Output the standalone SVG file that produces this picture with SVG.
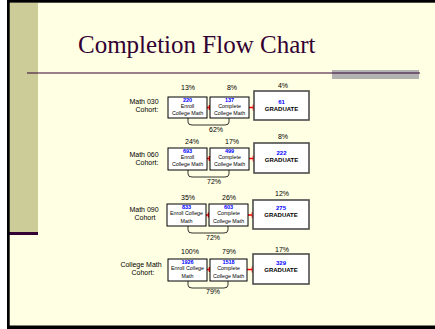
<svg xmlns="http://www.w3.org/2000/svg" width="435" height="329" viewBox="0 0 435 329">
<style>
.pct{font-family:"Liberation Sans",Arial,sans-serif;font-size:7px;fill:#000;text-anchor:middle}
.lbl{font-family:"Liberation Sans",Arial,sans-serif;font-size:7px;fill:#000;text-anchor:middle}
.box{fill:#fff;stroke:#000;stroke-width:1}
.gbox{fill:#fff;stroke:#4d4d4d;stroke-width:1.6}
.num{font-family:"Liberation Sans",Arial,sans-serif;font-size:5.5px;font-weight:bold;fill:#0000ff;text-anchor:middle}
.gnum{font-family:"Liberation Sans",Arial,sans-serif;font-size:6px;font-weight:bold;fill:#0000ff;text-anchor:middle}
.txt{font-family:"Liberation Sans",Arial,sans-serif;font-size:5.3px;fill:#000;text-anchor:middle}
.grad{font-family:"Liberation Sans",Arial,sans-serif;font-size:6px;font-weight:bold;fill:#000;text-anchor:middle}
.red{stroke:#ff0000;stroke-width:1.6;fill:none}
.br{stroke:#000;stroke-width:0.8;fill:none}
</style>
<rect x="0" y="0" width="435" height="329" fill="#fff"/>
<rect x="7" y="0" width="428" height="329" fill="#ffffe3"/>
<rect x="9" y="3" width="29" height="229" fill="#cccc99"/>
<rect x="9" y="232" width="29" height="3" fill="#330033"/>
<rect x="7" y="0" width="428" height="2.7" fill="#000"/>
<rect x="7" y="0" width="2.7" height="329" fill="#000"/>
<rect x="7" y="325.5" width="428" height="3.5" fill="#000"/>
<text x="78" y="53" font-family="'Liberation Serif','Times New Roman',serif" font-size="25" fill="#330033">Completion Flow Chart</text>
<rect x="332" y="70" width="87" height="9" fill="#b2b2b2"/>
<line x1="27" y1="73" x2="420" y2="73" stroke="#330033" stroke-width="1"/>

<g id="connectors">
<path class="red" d="M207 107.5H210M209.5 105V110M249 107.5H254M253.5 104.5V110.5"/>
<path class="br" d="M188 118V122Q188 125 192 125H225Q229 125 229 122V118"/>
<path class="red" d="M207 158.5H210M209.5 156V161M249 158.5H254M253.5 155.5V161.5"/>
<path class="br" d="M188 170V174Q188 177 192 177H225Q229 177 229 174V170"/>
<path class="red" d="M206 215H209M208.5 212.5V217.5M248 215H253M252.5 212V218"/>
<path class="br" d="M188 226V230Q188 233 192 233H224Q228 233 228 230V226"/>
<path class="red" d="M207 269.5H210M209.5 267V272M247 269.5H253M252.5 266.5V272.5"/>
<path class="br" d="M188 281V285Q188 288 192 288H224Q228 288 228 285V281"/>
</g>

<g id="row1">
<text class="lbl" x="144" y="104">Math 030</text>
<text class="lbl" x="147" y="112">Cohort:</text>
<text class="pct" x="188" y="90">13%</text>
<text class="pct" x="232" y="90">8%</text>
<text class="pct" x="283" y="88">4%</text>
<g id="enroll1"><rect class="box" x="168" y="97" width="39" height="21"/>
<text class="num" x="187.5" y="102">220</text><text class="txt" x="187.5" y="107.5">Enroll</text><text class="txt" x="187.5" y="114.5">College Math</text></g>
<g id="complete1"><rect class="box" x="210" y="97" width="39" height="21"/>
<text class="num" x="229.5" y="102">137</text><text class="txt" x="229.5" y="107.5">Complete</text><text class="txt" x="229.5" y="114.5">College Math</text></g>
<g id="grad1"><rect class="gbox" x="254" y="91" width="55" height="29"/>
<text class="gnum" x="281.5" y="104">61</text><text class="grad" x="281.5" y="111">GRADUATE</text></g>
<text class="pct" x="216" y="132">62%</text>
</g>

<g id="row2">
<text class="lbl" x="144" y="157">Math 060</text>
<text class="lbl" x="147" y="165">Cohort:</text>
<text class="pct" x="192" y="144">24%</text>
<text class="pct" x="232" y="144">17%</text>
<text class="pct" x="283" y="139">8%</text>
<g id="enroll2"><rect class="box" x="168" y="148" width="39" height="22"/>
<text class="num" x="187.5" y="153">693</text><text class="txt" x="187.5" y="159">Enroll</text><text class="txt" x="187.5" y="166">College Math</text></g>
<g id="complete2"><rect class="box" x="210" y="148" width="39" height="22"/>
<text class="num" x="229.5" y="153">499</text><text class="txt" x="229.5" y="159">Complete</text><text class="txt" x="229.5" y="166">College Math</text></g>
<g id="grad2"><rect class="gbox" x="254" y="143" width="55" height="30"/>
<text class="gnum" x="281.5" y="155">222</text><text class="grad" x="281.5" y="162">GRADUATE</text></g>
<text class="pct" x="214" y="184">72%</text>
</g>

<g id="row3">
<text class="lbl" x="144" y="212">Math 090</text>
<text class="lbl" x="145" y="220">Cohort</text>
<text class="pct" x="188" y="200">35%</text>
<text class="pct" x="229" y="200">26%</text>
<text class="pct" x="282" y="196">12%</text>
<g id="enroll3"><rect class="box" x="167" y="204" width="39" height="22"/>
<text class="num" x="186.5" y="209">833</text><text class="txt" x="186.5" y="215">Enroll College</text><text class="txt" x="186.5" y="223">Math</text></g>
<g id="complete3"><rect class="box" x="209" y="204" width="39" height="22"/>
<text class="num" x="228.5" y="209">603</text><text class="txt" x="228.5" y="215">Complete</text><text class="txt" x="228.5" y="223">College Math</text></g>
<g id="grad3"><rect class="gbox" x="253" y="200" width="56" height="29"/>
<text class="gnum" x="281" y="210">275</text><text class="grad" x="281" y="217">GRADUATE</text></g>
<text class="pct" x="213" y="240">72%</text>
</g>

<g id="row4">
<text class="lbl" x="141" y="267">College Math</text>
<text class="lbl" x="143" y="275">Cohort:</text>
<text class="pct" x="190" y="254">100%</text>
<text class="pct" x="229" y="254">79%</text>
<text class="pct" x="282" y="252">17%</text>
<g id="enroll4"><rect class="box" x="168" y="259" width="39" height="22"/>
<text class="num" x="187.5" y="264">1926</text><text class="txt" x="187.5" y="270">Enroll College</text><text class="txt" x="187.5" y="278">Math</text></g>
<g id="complete4"><rect class="box" x="210" y="259" width="37" height="22"/>
<text class="num" x="228.5" y="264">1518</text><text class="txt" x="228.5" y="270">Complete</text><text class="txt" x="228.5" y="278">College Math</text></g>
<g id="grad4"><rect class="gbox" x="253" y="254" width="56" height="30"/>
<text class="gnum" x="281" y="265">329</text><text class="grad" x="281" y="272">GRADUATE</text></g>
<text class="pct" x="213" y="294">79%</text>
</g>
</svg>
